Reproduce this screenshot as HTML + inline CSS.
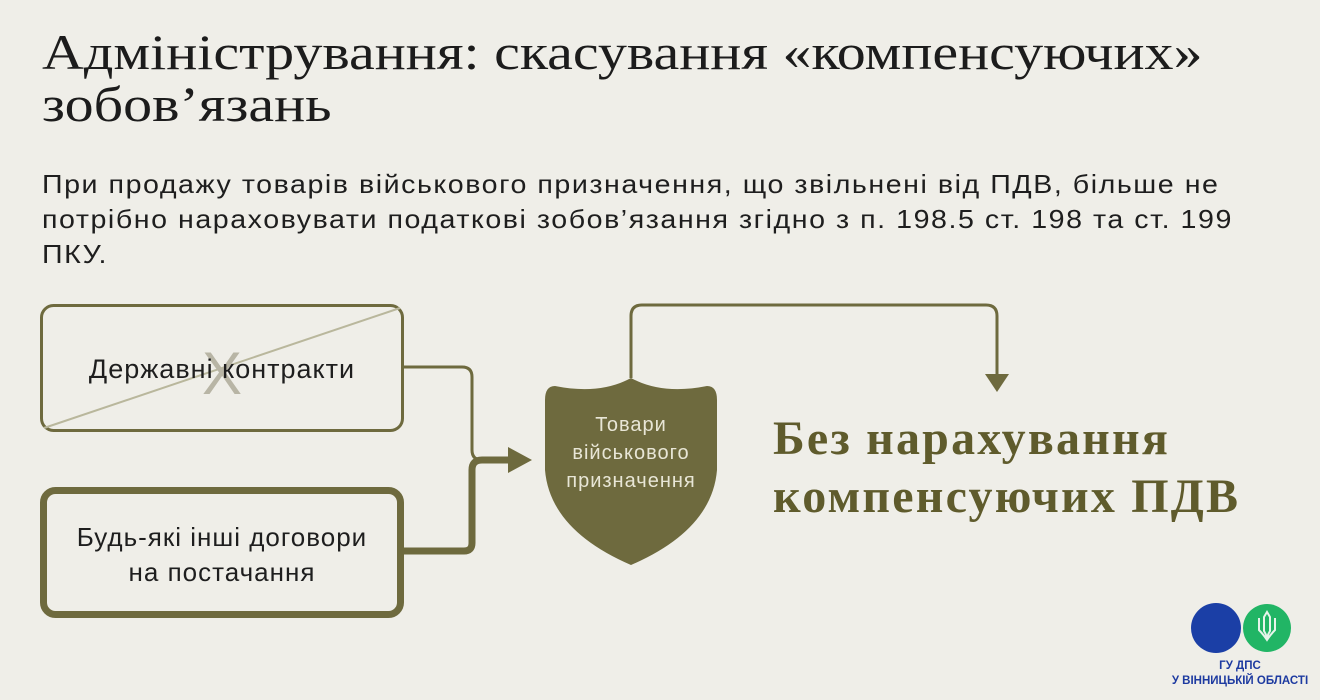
<!DOCTYPE html>
<html><head><meta charset="utf-8"><style>
body{margin:0;width:1320px;height:700px;background:#efeee8;overflow:hidden;position:relative;font-family:"Liberation Sans",sans-serif}
.t{position:absolute;left:42px;top:26px;font-family:"Liberation Serif",serif;font-size:50px;line-height:52px;color:#1c1c1c;transform:scaleX(1.16);transform-origin:0 0;white-space:nowrap}
.s{position:absolute;left:42px;top:167px;font-size:26px;letter-spacing:1.4px;line-height:35px;color:#1e1e1e;white-space:nowrap;transform:scaleX(1.1);transform-origin:0 0}
.big{position:absolute;left:773px;top:410px;font-family:"Liberation Serif",serif;font-weight:bold;font-size:48px;letter-spacing:2.2px;line-height:58px;color:#5f5b2c;white-space:nowrap}
.lg{position:absolute;left:1160px;top:659px;width:160px;text-align:center;color:#1d3aa0;font-weight:bold;font-size:11.5px;line-height:15px}
</style></head><body>
<div class="t">Адміністрування: скасування «компенсуючих»<br>зобов’язань</div>
<div class="s">При продажу товарів військового призначення, що звільнені від ПДВ, більше не<br>потрібно нараховувати податкові зобов’язання згідно з п. 198.5 ст. 198 та ст. 199<br>ПКУ.</div>
<svg width="1320" height="700" style="position:absolute;left:0;top:0">
<rect x="41.5" y="305.5" width="361" height="125" rx="12" fill="none" stroke="#6e6a3e" stroke-width="3"/>
<line x1="44" y1="428" x2="400" y2="308" stroke="#b9b79c" stroke-width="2"/>
<text x="222" y="394" text-anchor="middle" font-family="Liberation Sans" font-size="60" fill="#b8b5a5">X</text>
<text x="222" y="378" text-anchor="middle" font-family="Liberation Sans" font-size="27" letter-spacing="1" fill="#1e1e1e">Державні контракти</text>
<rect x="43.5" y="490.5" width="357" height="124" rx="12" fill="none" stroke="#6e6a3e" stroke-width="7"/>
<text x="222" y="546" text-anchor="middle" font-family="Liberation Sans" font-size="26" letter-spacing="1" fill="#1e1e1e">Будь-які інші договори</text>
<text x="222" y="581" text-anchor="middle" font-family="Liberation Sans" font-size="26" letter-spacing="1" fill="#1e1e1e">на постачання</text>
<path d="M403 367 H462 Q472 367 472 377 V450 Q472 460 482 460" fill="none" stroke="#6e6a3e" stroke-width="3"/>
<path d="M403 551 H464 Q472 551 472 543 V470 Q472 460 482 460 H512" fill="none" stroke="#6e6a3e" stroke-width="7"/>
<path d="M508 447 L532 460 L508 473 Z" fill="#6e6a3e"/>
<path d="M631 378 Q600 395 555 386 Q545 386 545 400 V470 Q550 530 631 565 Q712 530 717 470 V400 Q717 386 707 386 Q662 395 631 378 Z" fill="#6e6a3e"/>
<text x="631" y="431" text-anchor="middle" font-family="Liberation Sans" font-size="20" letter-spacing="1" fill="#e8e6d6">Товари</text>
<text x="631" y="459" text-anchor="middle" font-family="Liberation Sans" font-size="20" letter-spacing="1" fill="#e8e6d6">військового</text>
<text x="631" y="487" text-anchor="middle" font-family="Liberation Sans" font-size="20" letter-spacing="1" fill="#e8e6d6">призначення</text>
<path d="M631 378 V316 Q631 305 642 305 H986 Q997 305 997 316 V378" fill="none" stroke="#6e6a3e" stroke-width="3"/>
<path d="M985 374 L997 392 L1009 374 Z" fill="#6e6a3e"/>
<circle cx="1216" cy="628" r="25" fill="#1b3fa6"/>
<circle cx="1267" cy="628" r="24" fill="#21b565"/>
<path d="M1267 612 l-3 5 v14 q3 5 3 8 q0-3 3-8 v-14 z M1259 618 v12 q4 4 8 10 q4-6 8-10 v-12" fill="none" stroke="#e6f4ea" stroke-width="2"/>
</svg>
<div class="big">Без нарахування<br>компенсуючих ПДВ</div>
<div class="lg">ГУ ДПС<br>У ВІННИЦЬКІЙ ОБЛАСТІ</div>
</body></html>
